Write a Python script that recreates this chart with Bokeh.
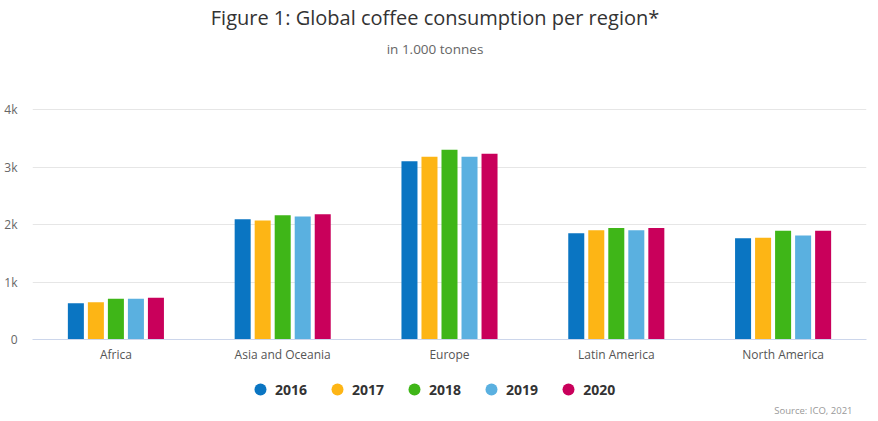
from bokeh.plotting import figure
from bokeh.models import (FactorRange, FixedTicker, Label, Legend, LegendItem,
                          ColumnDataSource, Range1d)
from bokeh.layouts import column
from bokeh.transform import dodge
from bokeh.embed import file_html
from bokeh.resources import INLINE

regions = ["Africa", "Asia and Oceania", "Europe", "Latin America", "North America"]
years = ["2016", "2017", "2018", "2019", "2020"]
v2016 = [630, 2090, 3100, 1850, 1760]
v2017 = [650, 2070, 3180, 1900, 1770]
v2018 = [710, 2160, 3300, 1940, 1890]
v2019 = [710, 2140, 3180, 1900, 1810]
v2020 = [725, 2180, 3230, 1940, 1890]
series = [v2016, v2017, v2018, v2019, v2020]
colors = ["#0a75c2", "#fdb515", "#3fb618", "#5ab0e0", "#c9005b"]
tick_values = [0, 1000, 2000, 3000, 4000]
tick_labels = ["0", "1k", "2k", "3k", "4k"]
title_text = "Figure 1: Global coffee consumption per region*"
subtitle_text = "in 1.000 tonnes"
source_text = "Source: ICO, 2021"

FONT = "Open Sans"

# layout sizes (pixels)
W = 870
LEFT = 32
RIGHT = 4
MAIN_H = 369          # title area + plot frame + x axis
AXIS_H = 30           # space under the frame for the category labels
PLOT_H = 230          # height of the 0..4k value band
LEG_H = 48

data = {"region": regions}
for y, s in zip(years, series):
    data[y] = s
src = ColumnDataSource(data)

frame_h = MAIN_H - AXIS_H
y_top = tick_values[-1] * frame_h / PLOT_H

p = figure(x_range=FactorRange(*regions), y_range=Range1d(0, y_top),
           width=W, height=MAIN_H, output_backend="svg", toolbar_location=None,
           min_border_left=LEFT, min_border_right=RIGHT, min_border_top=0,
           min_border_bottom=AXIS_H)
p.outline_line_color = None

offsets = [-0.24, -0.12, 0.0, 0.12, 0.24]
for y, off, c in zip(years, offsets, colors):
    p.vbar(x=dodge("region", off, range=p.x_range), top=y, width=0.096,
           source=src, fill_color=c, line_color=None)

p.xaxis.axis_line_color = "#ccd6eb"
p.xaxis.major_tick_line_color = None
p.xaxis.major_tick_out = 0
p.xaxis.minor_tick_line_color = None
p.xaxis.major_label_text_font = FONT
p.xaxis.major_label_text_font_size = "12px"
p.xaxis.major_label_text_color = "#555555"
p.xaxis.major_label_standoff = 6
p.xgrid.grid_line_color = None

p.yaxis.ticker = FixedTicker(ticks=tick_values)
p.yaxis.major_label_overrides = {v: l for v, l in zip(tick_values, tick_labels)}
p.yaxis.axis_line_color = None
p.yaxis.major_tick_line_color = None
p.yaxis.major_tick_out = 0
p.yaxis.minor_tick_line_color = None
p.yaxis.major_label_text_font = FONT
p.yaxis.major_label_text_font_size = "12px"
p.yaxis.major_label_text_color = "#666666"
p.yaxis.major_label_standoff = 15
p.ygrid.ticker = FixedTicker(ticks=tick_values)
p.ygrid.grid_line_color = "#e6e6e6"

# titles (inside the frame's upper, empty band)
cx = 434.5 - LEFT
p.add_layout(Label(x=cx, y=frame_h - 17, x_units="screen", y_units="screen",
                   text=title_text, text_align="center", text_baseline="middle",
                   text_font=FONT, text_font_size="20px", text_color="#333333"))
p.add_layout(Label(x=cx, y=frame_h - 48, x_units="screen", y_units="screen",
                   text=subtitle_text, text_align="center",
                   text_baseline="middle", text_font=FONT,
                   text_font_size="13.5px", text_color="#666666"))

# bottom strip: legend + source
q = figure(width=W, height=LEG_H, x_range=Range1d(0, W), y_range=Range1d(0, LEG_H),
           x_axis_type=None, y_axis_type=None, output_backend="svg",
           toolbar_location=None, min_border=0, min_border_left=LEFT,
           min_border_right=RIGHT)
q.outline_line_color = None
q.grid.visible = False

# legend-only renderers: one anchor point each, placed outside the visible range
items = []
for y, c in zip(years, colors):
    r = q.circle(x=[-W], y=[-LEG_H], radius=1, fill_color=c, line_color=None)
    items.append(LegendItem(label=y, renderers=[r]))
legend = Legend(items=items, orientation="horizontal", location=(245 - LEFT, 13),
                glyph_width=30, glyph_height=30, label_standoff=0, spacing=15,
                padding=0, margin=0, background_fill_alpha=0,
                border_line_alpha=0, label_text_font=FONT,
                label_text_font_size="14px", label_text_font_style="bold",
                label_text_color="#333333")
q.add_layout(legend, "center")
q.add_layout(Label(x=852 - LEFT, y=7, x_units="screen", y_units="screen",
                   text=source_text, text_align="right", text_baseline="middle",
                   text_font=FONT, text_font_size="9.5px", text_color="#999999"))

layout = column(p, q, spacing=0)
open("out.html", "w").write(file_html(layout, INLINE))
